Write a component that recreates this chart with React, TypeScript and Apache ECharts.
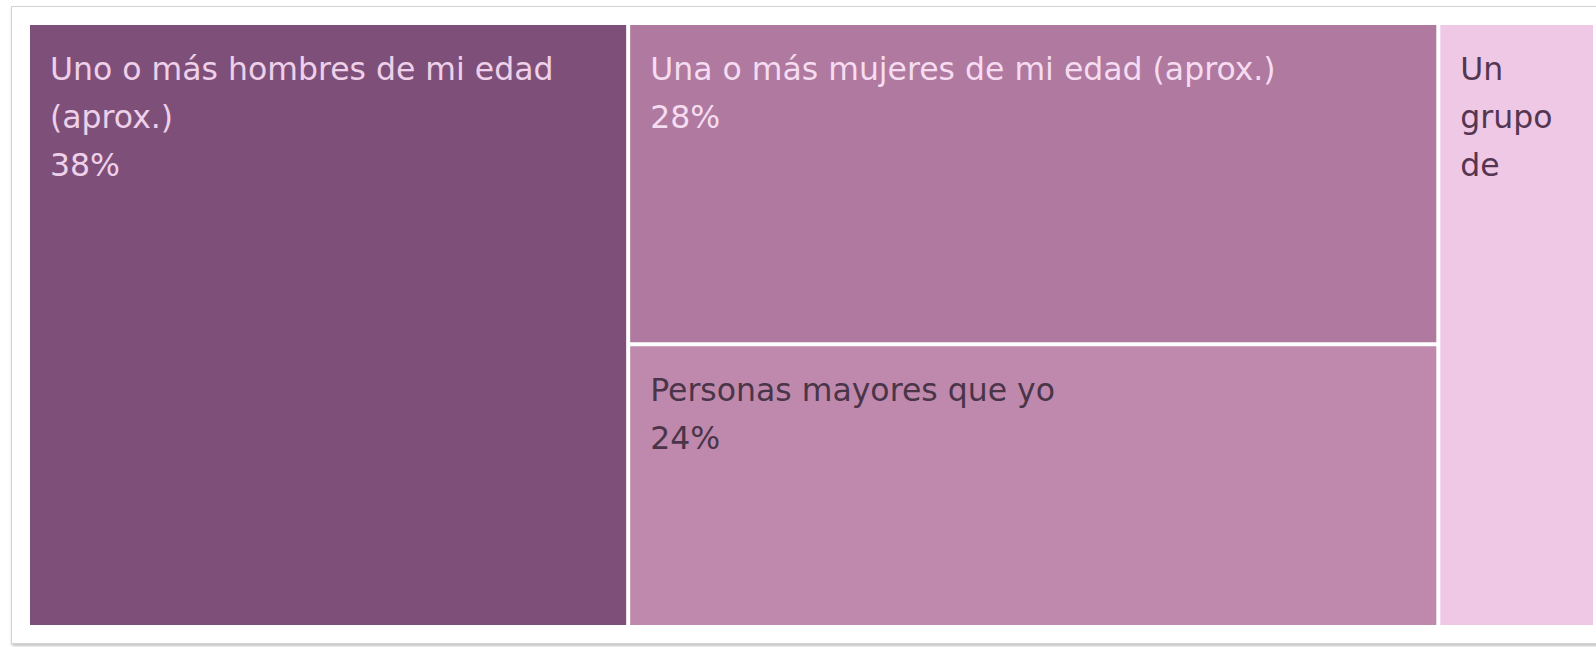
import React, { useEffect, useRef } from 'react';
import * as echarts from 'echarts';

const categories = [
  'Uno o más hombres de mi edad\n(aprox.)',
  'Una o más mujeres de mi edad (aprox.)',
  'Personas mayores que yo',
  'Un\ngrupo\nde',
];
const values = [38.3, 27.5, 24.2, 10.0];
const showValue = [true, true, true, false];
const cellColors = ['#7E5079', '#AF79A0', '#BF89AD', '#EFC8E5'];
const textColors = ['#EFD0EA', '#F6DCF0', '#4A3548', '#553652'];

export default function App() {
  const ref = useRef<HTMLDivElement>(null);
  useEffect(() => {
    if (!ref.current) return;
    const chart = echarts.init(ref.current, undefined, { renderer: 'svg' });
    const data = categories.map((name, i) => ({
      name,
      value: values[i],
      itemStyle: { color: cellColors[i] },
      label: {
        color: textColors[i],
        formatter: (p: any) =>
          showValue[i] ? `${p.name}\n${Math.round(p.value)}%` : p.name,
      },
    }));
    chart.setOption({
      animation: false,
      tooltip: { show: false },
      series: [
        {
          type: 'treemap',
          left: 30,
          top: 25,
          width: 1563,
          height: 600,
          roam: false,
          nodeClick: false,
          breadcrumb: { show: false },
          sort: 'desc',
          itemStyle: { gapWidth: 4, borderWidth: 0, borderColor: '#fff' },
          label: {
            show: true,
            position: 'insideTopLeft',
            distance: 0,
            padding: [20, 20, 0, 20],
            fontFamily: 'DejaVu Sans',
            fontSize: 31.5,
            lineHeight: 48,
            overflow: 'none',
          },
          emphasis: { disabled: true },
          data,
        },
      ],
    });
    return () => chart.dispose();
  }, []);
  return (
    <div style={{ position: 'fixed', left: 0, top: 0, width: 1596, height: 647, background: '#fff', overflow: 'hidden' }}>
      <div
        style={{
          position: 'absolute',
          left: 11,
          top: 6,
          width: 1600,
          height: 636,
          border: '1px solid #d4d4d4',
          boxShadow: '1px 2px 3px rgba(0,0,0,0.25)',
          background: '#fff',
        }}
      />
      <div ref={ref} style={{ position: 'absolute', left: 0, top: 0, width: 1596, height: 647 }} />
    </div>
  );
}
